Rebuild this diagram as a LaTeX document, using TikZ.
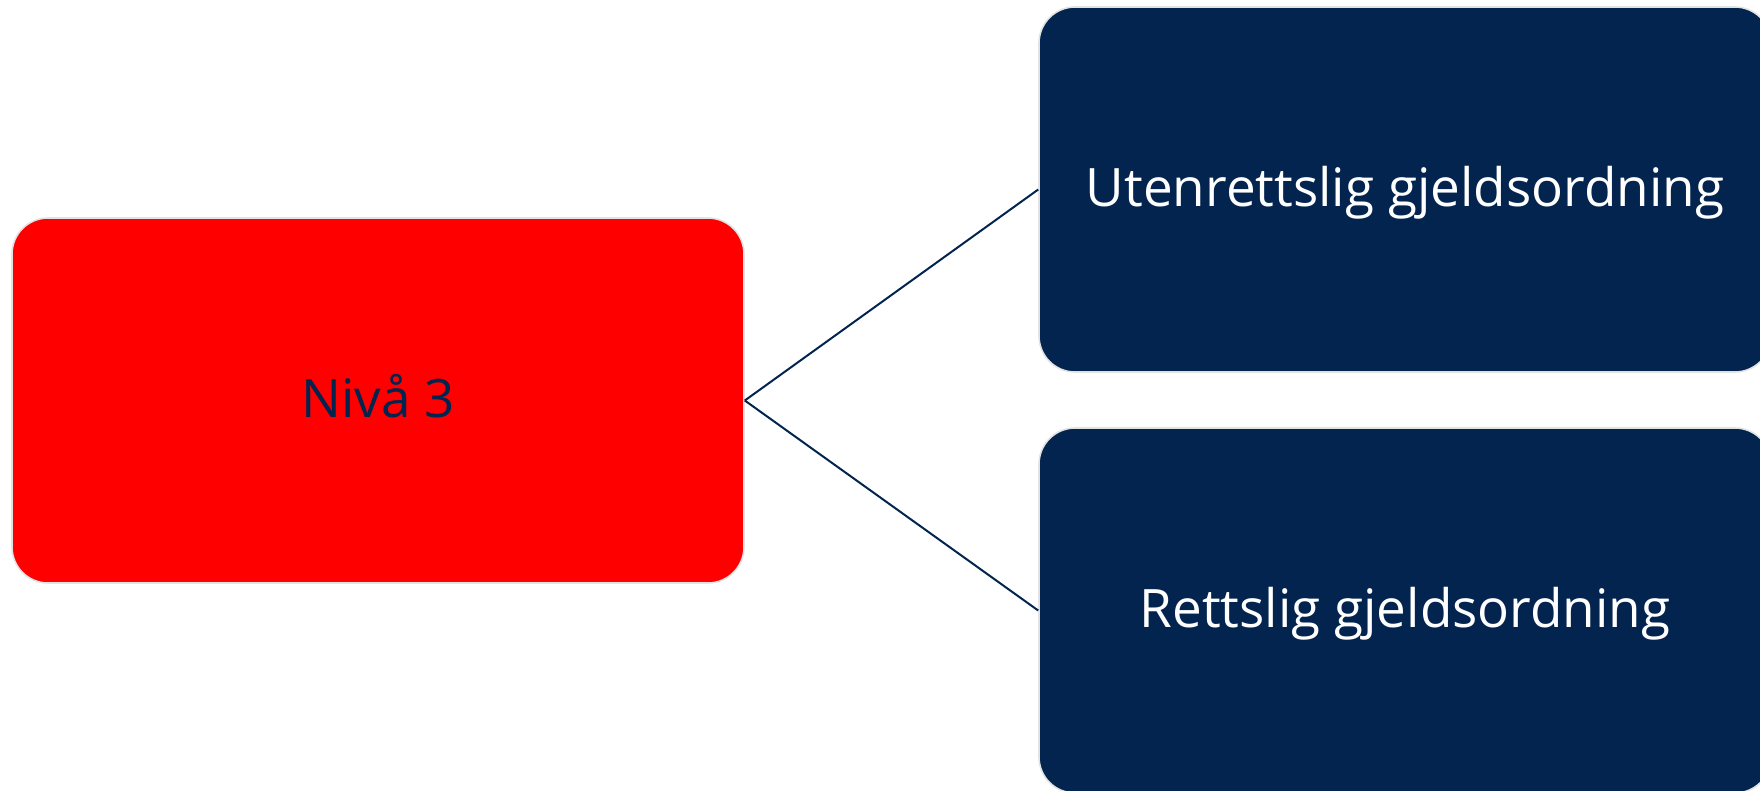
\documentclass[tikz,border=0pt]{standalone}
\usepackage{fontspec}
\setmainfont{Open Sans}
\definecolor{navy}{HTML}{02244F}
\definecolor{rimgray}{HTML}{E2E2E2}
\tikzset{
  box/.style={draw=rimgray, line width=1.6pt, rounded corners=36pt,
    minimum width=732pt, minimum height=365pt, inner sep=0pt,
    text height=43pt, text depth=10pt,
    font=\fontsize{53}{60}\selectfont},
  redbox/.style={box, fill=red, text=navy},
  navybox/.style={box, fill=navy, text=white},
  link/.style={draw=navy, line width=2pt}
}
\begin{document}
\begin{tikzpicture}[x=1pt,y=-1pt]
\useasboundingbox (0,0) rectangle (1760,790);
\clip (0,0) rectangle (1760,790);
\node[redbox] (lvl) at (378,400.5) {Nivå 3};
\node[navybox] (ut) at (1405,189.5) {Utenrettslig gjeldsordning};
\node[navybox] (rt) at (1405,610.5) {Rettslig gjeldsordning};
\draw[link] (lvl.east) -- (ut.west);
\draw[link] (lvl.east) -- (rt.west);
\end{tikzpicture}
\end{document}
